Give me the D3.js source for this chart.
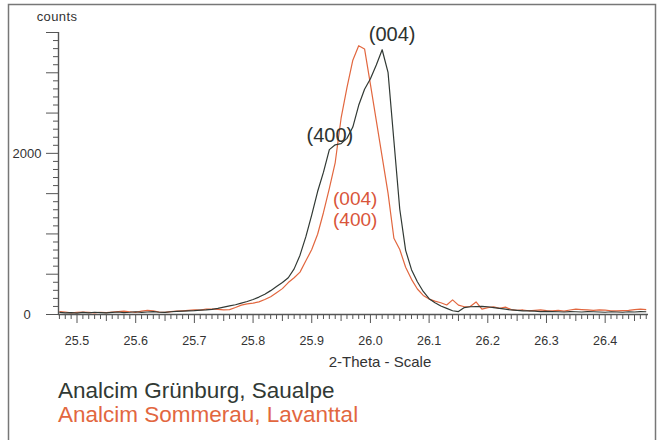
<!doctype html>
<html lang="en">
<head>
  <meta charset="utf-8">
  <title>Analcim XRD peaks</title>
  <style>
    body { margin: 0; background: #fff; }
    svg { display: block; font-family: "Liberation Sans", Arial, sans-serif; }
    .tick-label { fill: #333; font-size: 12.5px; }
    .line { fill: none; stroke-width: 1.2; stroke-linejoin: round; }
  </style>
</head>
<body>
  <div id="chart"></div>

  <script src="https://d3js.org/d3.v7.min.js"></script>
  <script>
// 2-theta positions (degrees)
const theta = [
  25.47, 25.48, 25.49, 25.50, 25.51, 25.52, 25.53, 25.54, 25.55, 25.56,
  25.57, 25.58, 25.59, 25.60, 25.61, 25.62, 25.63, 25.64, 25.65, 25.66,
  25.67, 25.68, 25.69, 25.70, 25.71, 25.72, 25.73, 25.74, 25.75, 25.76,
  25.77, 25.78, 25.79, 25.80, 25.81, 25.82, 25.83, 25.84, 25.85, 25.86,
  25.87, 25.88, 25.89, 25.90, 25.91, 25.92, 25.93, 25.94, 25.95, 25.96,
  25.97, 25.98, 25.99, 26.00, 26.01, 26.02, 26.03, 26.04, 26.05, 26.06,
  26.07, 26.08, 26.09, 26.10, 26.11, 26.12, 26.13, 26.14, 26.15, 26.16,
  26.17, 26.18, 26.19, 26.20, 26.21, 26.22, 26.23, 26.24, 26.25, 26.26,
  26.27, 26.28, 26.29, 26.30, 26.31, 26.32, 26.33, 26.34, 26.35, 26.36,
  26.37, 26.38, 26.39, 26.40, 26.41, 26.42, 26.43, 26.44, 26.45, 26.46,
  26.47
];

// counts, Analcim Grünburg (Saualpe)
const gruenburg = [
  20, 15, 18, 12, 20, 15, 22, 18, 14, 20,
  25, 18, 22, 28, 20, 25, 30, 22, 20, 28,
  32, 35, 38, 42, 48, 52, 58, 70, 85, 100,
  115, 135, 155, 180, 210, 245, 290, 340, 390, 450,
  560, 730, 960, 1230, 1520, 1760, 2040, 2100, 2115, 2180,
  2320, 2590, 2790, 2920, 3090, 3280, 3000, 2150, 1300, 790,
  550, 400, 280, 190, 140, 100, 70, 40, 30, 80,
  90, 92, 95, 90, 80, 70, 60, 50, 45, 40,
  38, 35, 30, 32, 30, 28, 25, 30, 28, 25,
  30, 28, 25, 22, 28, 25, 22, 28, 25, 30,
  28
];

// counts, Analcim Sommerau (Lavanttal)
const sommerau = [
  30, 25, 15, 20, 25, 20, 15, 22, 18, 25,
  30, 35, 28, 20, 35, 45, 38, 25, 20, 30,
  35, 40, 45, 50, 48, 60, 62, 58, 50, 55,
  80, 110, 125, 135, 150, 180, 215, 265, 315, 390,
  450, 520, 660, 800, 990, 1260, 1560, 1880, 2430, 2810,
  3150, 3330, 3290, 2850, 2400, 1950, 1500, 940, 800, 580,
  430, 310, 230, 185, 160, 140, 112, 175, 110, 90,
  92, 150, 60, 80, 90, 70, 85, 55, 45, 50,
  40, 45, 50, 42, 38, 45, 35, 50, 60, 55,
  50, 45, 52, 48, 40, 38, 42, 45, 55, 60,
  55
];

const xLabels = [25.5, 25.6, 25.7, 25.8, 25.9, 26.0, 26.1, 26.2, 26.3, 26.4];
const yLabels = [0, 2000];

const series = [
  { name: 'Analcim Grünburg, Saualpe', values: gruenburg, color: '#313934' },
  { name: 'Analcim Sommerau, Lavanttal', values: sommerau, color: '#e2673f' }
];

const width = 659, height = 440;

const svg = d3.select('#chart').append('svg')
  .attr('width', width)
  .attr('height', height);

// outer frame
svg.append('rect')
  .attr('x', 8.5).attr('y', 4.5)
  .attr('width', 647).attr('height', 460)
  .attr('fill', 'none')
  .attr('stroke', '#777')
  .attr('stroke-width', 1.5);

const x = d3.scaleLinear().domain([25.4676, 26.473]).range([58, 648]);
const y = d3.scaleLinear().domain([0, 3500]).range([314, 32]);

// x axis ticks: 0.01 minor, 0.05 medium, 0.1 major
const xTicks = d3.range(2547, 2648).map(i => i / 100);
const xAxis = svg.append('g').attr('stroke', '#555');
xAxis.append('line')
  .attr('x1', x.range()[0]).attr('x2', x.range()[1])
  .attr('y1', y(0) + 0.5).attr('y2', y(0) + 0.5)
  .attr('stroke-width', 1.4);
xAxis.selectAll('line.t')
  .data(xTicks)
  .join('line')
  .attr('class', 't')
  .attr('x1', d => x(d)).attr('x2', d => x(d))
  .attr('y1', y(0))
  .attr('y2', d => {
    const k = Math.round(d * 100);
    if (k % 10 === 0) return y(0) + 9;
    if (k % 5 === 0) return y(0) + 7;
    return y(0) + 5;
  })
  .attr('stroke-width', 1);

svg.append('g').selectAll('text')
  .data(xLabels)
  .join('text')
  .attr('class', 'tick-label')
  .attr('x', d => x(d))
  .attr('y', 345)
  .attr('text-anchor', 'middle')
  .text(d => d.toFixed(1));

svg.append('text')
  .attr('x', 380).attr('y', 367)
  .attr('text-anchor', 'middle')
  .attr('fill', '#333')
  .attr('font-size', 15)
  .text('2-Theta - Scale');

// y axis ticks: 100 minor, 500 major
const yTicks = d3.range(0, 36).map(i => i * 100);
const yAxis = svg.append('g').attr('stroke', '#555');
yAxis.append('line')
  .attr('x1', 58.5).attr('x2', 58.5)
  .attr('y1', y(3500)).attr('y2', y(0))
  .attr('stroke-width', 1.4);
yAxis.selectAll('line.t')
  .data(yTicks)
  .join('line')
  .attr('class', 't')
  .attr('y1', d => y(d) + 0.5).attr('y2', d => y(d) + 0.5)
  .attr('x2', 58)
  .attr('x1', d => d % 500 === 0 ? 46 : 53)
  .attr('stroke-width', 1);

svg.append('g').selectAll('text')
  .data(yLabels)
  .join('text')
  .attr('class', 'tick-label')
  .attr('font-size', 13)
  .style('font-size', '13px')
  .attr('x', 27)
  .attr('y', d => y(d) + 5)
  .attr('text-anchor', 'middle')
  .text(d => d);

svg.append('text')
  .attr('x', 57).attr('y', 21)
  .attr('text-anchor', 'middle')
  .attr('fill', '#333')
  .attr('font-size', 13)
  .attr('letter-spacing', 0.4)
  .text('counts');

// diffraction traces
const line = d3.line()
  .x((d, i) => x(theta[i]))
  .y(d => y(d));

svg.append('g').selectAll('path')
  .data(series.slice().reverse())
  .join('path')
  .attr('class', 'line')
  .attr('stroke', d => d.color)
  .attr('d', d => line(d.values));

// peak labels
const peakLabels = [
  { text: '(004)', tx: 26.037, cy: 3390, color: '#2d3330', size: 20 },
  { text: '(400)', tx: 25.931, cy: 2137, color: '#2d3330', size: 20 },
  { text: '(004)', tx: 25.974, cy: 1354, color: '#d9553a', size: 19 },
  { text: '(400)', tx: 25.974, cy: 1093, color: '#d9553a', size: 19 }
];
svg.append('g').selectAll('text')
  .data(peakLabels)
  .join('text')
  .attr('x', d => x(d.tx))
  .attr('y', d => y(d.cy))
  .attr('text-anchor', 'middle')
  .attr('font-size', d => d.size)
  .attr('fill', d => d.color)
  .text(d => d.text);

// legend
svg.append('g').selectAll('text')
  .data(series)
  .join('text')
  .attr('x', 58)
  .attr('y', (d, i) => 398 + i * 24)
  .attr('font-size', 22.5)
  .attr('fill', d => d.color)
  .text(d => d.name);
  </script>
</body>
</html>
